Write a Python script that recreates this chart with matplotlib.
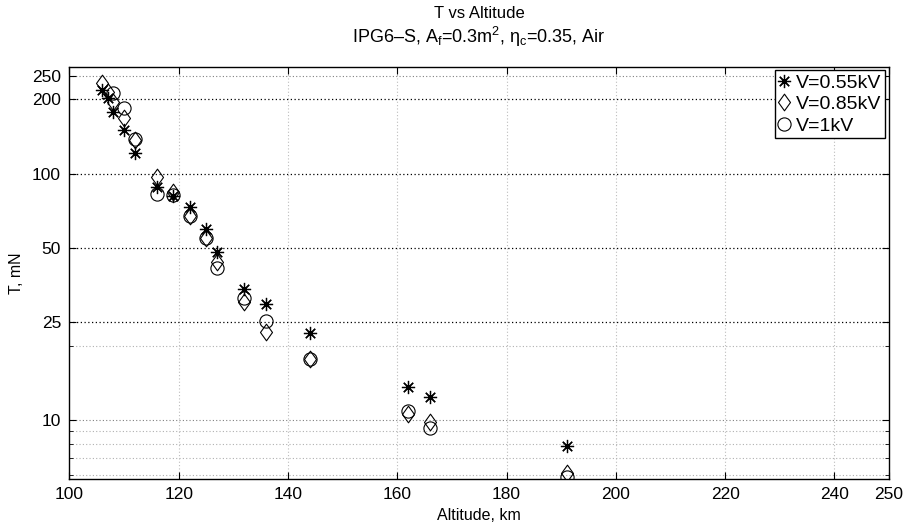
import matplotlib
matplotlib.use("Agg")
import matplotlib.pyplot as plt
from matplotlib.path import Path
from matplotlib.ticker import FixedLocator, NullFormatter

plt.rcParams['font.family'] = ['Liberation Sans', 'DejaVu Sans']
plt.rcParams['mathtext.fontset'] = 'custom'
plt.rcParams['mathtext.rm'] = 'Liberation Sans'
plt.rcParams['mathtext.it'] = 'Liberation Sans'
plt.rcParams['mathtext.bf'] = 'Liberation Sans'

# Thrust T (mN) versus altitude (km) for three discharge voltages
alt_055 = [106, 107, 108, 110, 112, 116, 119, 122, 125, 127, 132, 136, 144, 162, 166, 191]
thr_055 = [218, 203, 178, 150, 121.7, 88, 81, 73.1, 59.7, 48.1, 34.1, 29.6, 22.5, 13.6, 12.4, 7.8]

alt_085 = [106, 107, 108, 110, 112, 116, 119, 122, 125, 127, 132, 136, 144, 162, 166, 191]
thr_085 = [234, 215, 196, 168, 137, 96.9, 84, 67.2, 54.7, 43.7, 30.0, 22.8, 17.6, 10.6, 9.8, 6.06]

alt_1 = [108, 110, 112, 116, 119, 122, 125, 127, 132, 136, 144, 162, 166, 191]
thr_1 = [213, 184, 138, 82.9, 82, 67.0, 55, 41.3, 31.3, 25.2, 17.7, 10.9, 9.3, 5.84]

series_labels = ['V=0.55kV', 'V=0.85kV', 'V=1kV']
x_ticks = [100, 120, 140, 160, 180, 200, 220, 240, 250]
y_ticks = [10, 25, 50, 100, 200, 250]
y_minor = [6, 7, 8, 9, 20]

fig = plt.figure(figsize=(9.10, 5.26), dpi=100)
ax = fig.add_axes([0.0763, 0.0899, 0.9006, 0.7821])

diamond = Path([(0, 1), (0.72, 0), (0, -1), (-0.72, 0), (0, 1)],
               [Path.MOVETO, Path.LINETO, Path.LINETO, Path.LINETO, Path.CLOSEPOLY])

ax.plot(alt_055, thr_055, linestyle='none', marker=(8, 2, 0), markersize=9.5,
        markeredgewidth=0.9, color='black', label=series_labels[0], zorder=3)
ax.plot(alt_085, thr_085, linestyle='none', marker=diamond, markersize=12,
        markeredgewidth=0.8, markerfacecolor='none', markeredgecolor='black',
        label=series_labels[1], zorder=3)
ax.plot(alt_1, thr_1, linestyle='none', marker='o', markersize=9.5,
        markeredgewidth=0.8, markerfacecolor='none', markeredgecolor='black',
        label=series_labels[2], zorder=3)

ax.set_yscale('log')
ax.set_xlim(100, 250)
ax.set_ylim(5.77, 270)

ax.set_xticks(x_ticks)
ax.set_xticklabels([str(v) for v in x_ticks])
ax.yaxis.set_major_locator(FixedLocator(y_ticks))
ax.set_yticklabels([str(v) for v in y_ticks])
ax.yaxis.set_minor_locator(FixedLocator(y_minor))
ax.yaxis.set_minor_formatter(NullFormatter())

# Dotted grid: stronger on the labelled decades
for v in x_ticks[1:-1]:
    ax.axvline(v, color='#bdbdbd', linestyle=(0, (1, 2)), linewidth=0.8, zorder=1)
for v in [25, 50, 100, 200]:
    ax.axhline(v, color='black', linestyle=(0, (1, 2)), linewidth=0.9, zorder=1)
for v in [10, 250]:
    ax.axhline(v, color='#808080', linestyle=(0, (1, 2)), linewidth=0.8, zorder=1)
for v in y_minor:
    ax.axhline(v, color='#b0b0b0', linestyle=(0, (1, 2)), linewidth=0.8, zorder=1)

ax.tick_params(axis='both', which='major', direction='in', length=5, width=0.8,
               top=True, right=True, labelsize=12.5, pad=6)
ax.tick_params(axis='y', which='minor', direction='in', length=3, width=0.6,
               right=True)
for s in ax.spines.values():
    s.set_linewidth(1.0)

ax.set_xlabel('Altitude, km', fontsize=11.5, labelpad=4)
ax.set_ylabel('T, mN', fontsize=11.5, labelpad=6)

fig.text(0.5266, 0.974, 'T vs Altitude', ha='center', va='center', fontsize=12)
fig.text(0.5266, 0.929, r'IPG6–S, A$_\mathregular{f}$=0.3m$^\mathregular{2}$, '
         r'$\mathregular{\eta}_\mathregular{c}$=0.35, Air',
         ha='center', va='center', fontsize=13)

leg = ax.legend(loc='upper right', bbox_to_anchor=(0.9955, 0.9935), fontsize=14,
                frameon=True, fancybox=False, edgecolor='black', framealpha=1,
                borderpad=0.2, handlelength=0.6, handletextpad=0.3,
                labelspacing=0.2, borderaxespad=0)
leg.get_frame().set_linewidth(1.0)

fig.savefig('out.png', dpi=100)
